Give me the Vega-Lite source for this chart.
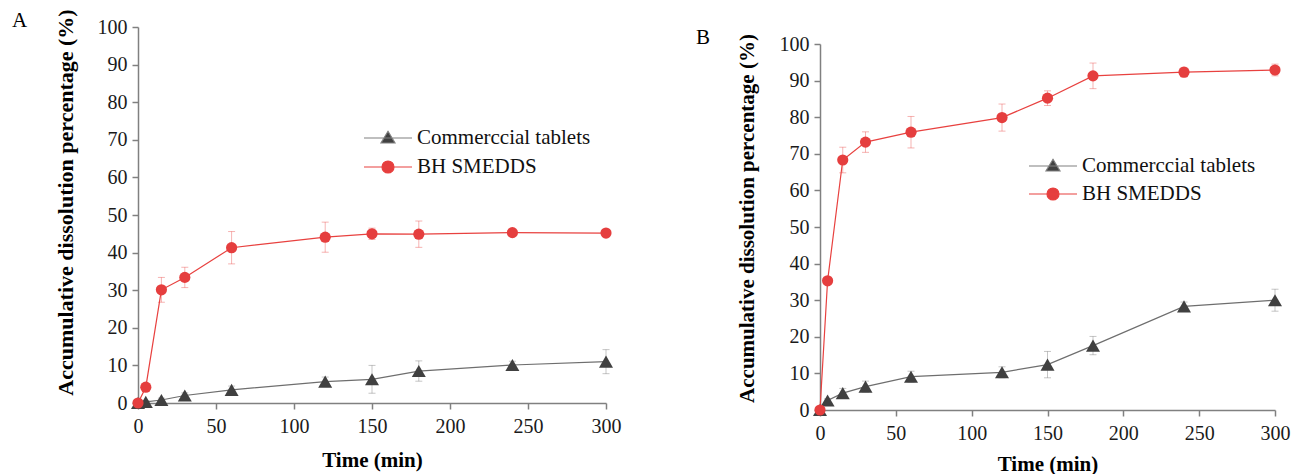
{
  "$schema": "https://vega.github.io/schema/vega-lite/v6.json",
  "background": "white",
  "padding": {"left": 12, "top": 8, "right": 5, "bottom": 0},
  "spacing": 75,
  "align": "none",
  "config": {
    "font": "Liberation Serif",
    "view": {"stroke": null},
    "axis": {
      "grid": false,
      "domainColor": "#808080",
      "domainWidth": 1.5,
      "tickColor": "#808080",
      "tickWidth": 1.5,
      "tickSize": 6,
      "labelFont": "Liberation Serif",
      "labelFontSize": 20,
      "labelColor": "#1a1a1a",
      "labelPadding": 5,
      "labelFlush": false,
      "labelOverlap": false,
      "titleFont": "Liberation Serif",
      "titleFontSize": 21,
      "titleFontWeight": "bold",
      "titleColor": "#000000"
    },
    "title": {"font": "Liberation Serif", "fontSize": 21, "fontWeight": "normal", "anchor": "start", "frame": "bounds", "color": "#000000"},
    "legend": {
      "orient": "none",
      "title": null,
      "labelFont": "Liberation Serif",
      "labelFontSize": 21,
      "labelColor": "#111111",
      "labelLimit": 0,
      "symbolSize": 400,
      "symbolStrokeWidth": 1.2,
      "symbolOpacity": 1
    }
  },
  "datasets": {
    "A": [
      {"series": "Commerccial tablets", "t": 0, "mean": 0, "sd": 0},
      {"series": "Commerccial tablets", "t": 5, "mean": 0.3, "sd": 0.3},
      {"series": "Commerccial tablets", "t": 15, "mean": 0.8, "sd": 0.5},
      {"series": "Commerccial tablets", "t": 30, "mean": 2.0, "sd": 0.7},
      {"series": "Commerccial tablets", "t": 60, "mean": 3.5, "sd": 1.0},
      {"series": "Commerccial tablets", "t": 120, "mean": 5.7, "sd": 1.2},
      {"series": "Commerccial tablets", "t": 150, "mean": 6.3, "sd": 3.7},
      {"series": "Commerccial tablets", "t": 180, "mean": 8.5, "sd": 2.7},
      {"series": "Commerccial tablets", "t": 240, "mean": 10.1, "sd": 1.0},
      {"series": "Commerccial tablets", "t": 300, "mean": 11.0, "sd": 3.2},
      {"series": "BH SMEDDS", "t": 0, "mean": 0, "sd": 0},
      {"series": "BH SMEDDS", "t": 5, "mean": 4.2, "sd": 0.5},
      {"series": "BH SMEDDS", "t": 15, "mean": 30.1, "sd": 3.3},
      {"series": "BH SMEDDS", "t": 30, "mean": 33.4, "sd": 2.7},
      {"series": "BH SMEDDS", "t": 60, "mean": 41.3, "sd": 4.3},
      {"series": "BH SMEDDS", "t": 120, "mean": 44.1, "sd": 4.0},
      {"series": "BH SMEDDS", "t": 150, "mean": 45.0, "sd": 1.5},
      {"series": "BH SMEDDS", "t": 180, "mean": 44.9, "sd": 3.5},
      {"series": "BH SMEDDS", "t": 240, "mean": 45.3, "sd": 0.8},
      {"series": "BH SMEDDS", "t": 300, "mean": 45.2, "sd": 0.8}
    ],
    "B": [
      {"series": "Commerccial tablets", "t": 0, "mean": 0, "sd": 0},
      {"series": "Commerccial tablets", "t": 5, "mean": 2.6, "sd": 0.5},
      {"series": "Commerccial tablets", "t": 15, "mean": 4.6, "sd": 1.3},
      {"series": "Commerccial tablets", "t": 30, "mean": 6.4, "sd": 1.5},
      {"series": "Commerccial tablets", "t": 60, "mean": 9.1, "sd": 1.5},
      {"series": "Commerccial tablets", "t": 120, "mean": 10.3, "sd": 1.5},
      {"series": "Commerccial tablets", "t": 150, "mean": 12.4, "sd": 3.6},
      {"series": "Commerccial tablets", "t": 180, "mean": 17.6, "sd": 2.5},
      {"series": "Commerccial tablets", "t": 240, "mean": 28.3, "sd": 1.2},
      {"series": "Commerccial tablets", "t": 300, "mean": 30.0, "sd": 3.0},
      {"series": "BH SMEDDS", "t": 0, "mean": 0, "sd": 0},
      {"series": "BH SMEDDS", "t": 5, "mean": 35.3, "sd": 0.5},
      {"series": "BH SMEDDS", "t": 15, "mean": 68.3, "sd": 3.5},
      {"series": "BH SMEDDS", "t": 30, "mean": 73.2, "sd": 2.8},
      {"series": "BH SMEDDS", "t": 60, "mean": 75.9, "sd": 4.3},
      {"series": "BH SMEDDS", "t": 120, "mean": 79.9, "sd": 3.7},
      {"series": "BH SMEDDS", "t": 150, "mean": 85.2, "sd": 2.0},
      {"series": "BH SMEDDS", "t": 180, "mean": 91.3, "sd": 3.5},
      {"series": "BH SMEDDS", "t": 240, "mean": 92.3, "sd": 1.3},
      {"series": "BH SMEDDS", "t": 300, "mean": 92.9, "sd": 1.6}
    ]
  },
  "resolve": {"scale": {"color": "independent", "fill": "independent"}, "legend": {"color": "independent", "fill": "independent"}},
  "hconcat": [
    {
      "data": {"name": "A"},
      "width": 468,
      "height": 376,
      "title": {"text": "A", "dx": -42, "offset": -22},
      "encoding": {
        "x": {"field": "t", "type": "quantitative", "title": "Time (min)", "scale": {"domain": [0, 300], "nice": false}, "axis": {"values": [0, 50, 100, 150, 200, 250, 300], "titlePadding": 13, "labelPadding": 7}},
        "y": {"field": "mean", "type": "quantitative", "title": "Accumulative dissolution percentage (%)", "scale": {"domain": [0, 100], "nice": false}, "axis": {"values": [0, 10, 20, 30, 40, 50, 60, 70, 80, 90, 100], "titlePadding": 20, "titleFontSize": 22, "titleY": 175}}
      },
      "layer": [
        {
          "transform": [{"filter": "datum.series == 'Commerccial tablets'"}],
          "mark": {"type": "errorbar", "ticks": true, "size": 7, "thickness": 1, "opacity": 0.4, "color": "#6e6e6e"},
          "encoding": {"yError": {"field": "sd"}}
        },
        {
          "transform": [{"filter": "datum.series == 'BH SMEDDS'"}],
          "mark": {"type": "errorbar", "ticks": true, "size": 7, "thickness": 1, "opacity": 0.4, "color": "#e8413f"},
          "encoding": {"yError": {"field": "sd"}}
        },
        {
          "transform": [{"filter": "datum.series == 'Commerccial tablets'"}],
          "mark": {"type": "line", "strokeWidth": 1.2, "color": "#6e6e6e"},
          "encoding": {}
        },
        {
          "transform": [{"filter": "datum.series == 'BH SMEDDS'"}],
          "mark": {"type": "line", "strokeWidth": 1.2, "color": "#e8413f"},
          "encoding": {}
        },
        {
          "transform": [{"filter": "datum.series == 'Commerccial tablets'"}],
          "mark": {"type": "point", "filled": true, "opacity": 1, "shape": "triangle-up", "size": 196},
          "encoding": {"color": {"field": "series", "type": "nominal", "scale": {"domain": ["Commerccial tablets"], "range": ["#404040"]},
            "legend": {"legendX": 239, "legendY": 100, "labelOffset": 18, "symbolType": "M-2.4,0H2.4M0,-0.67L0.7,0.5L-0.7,0.5Z", "symbolStrokeColor": "#808080", "symbolFillColor": "#404040"}}}
        },
        {
          "transform": [{"filter": "datum.series == 'BH SMEDDS'"}],
          "mark": {"type": "point", "filled": true, "opacity": 1, "shape": "circle", "size": 125},
          "encoding": {"fill": {"field": "series", "type": "nominal", "scale": {"domain": ["BH SMEDDS"], "range": ["#e53e3e"]},
            "legend": {"legendX": 239, "legendY": 129, "labelOffset": 18, "symbolType": "M-2.4,0H2.4M0.6,0A0.6,0.6 0 1 1 -0.6,0A0.6,0.6 0 1 1 0.6,0Z", "symbolStrokeColor": "#e8413f", "symbolFillColor": "#e53e3e"}}}
        }
      ]
    },
    {
      "data": {"name": "B"},
      "width": 455,
      "height": 383,
      "title": {"text": "B", "dx": -40, "offset": -21},
      "encoding": {
        "x": {"field": "t", "type": "quantitative", "title": "Time (min)", "scale": {"domain": [0, 300], "nice": false}, "axis": {"values": [0, 50, 100, 150, 200, 250, 300], "titlePadding": 10, "labelPadding": 7}},
        "y": {"field": "mean", "type": "quantitative", "title": "Accumulative dissolution percentage (%)", "scale": {"domain": [0, 100], "nice": false, "rangeMax": 17}, "axis": {"values": [0, 10, 20, 30, 40, 50, 60, 70, 80, 90, 100], "titlePadding": 22, "titleY": 191}}
      },
      "layer": [
        {
          "transform": [{"filter": "datum.series == 'Commerccial tablets'"}],
          "mark": {"type": "errorbar", "ticks": true, "size": 7, "thickness": 1, "opacity": 0.4, "color": "#6e6e6e"},
          "encoding": {"yError": {"field": "sd"}}
        },
        {
          "transform": [{"filter": "datum.series == 'BH SMEDDS'"}],
          "mark": {"type": "errorbar", "ticks": true, "size": 7, "thickness": 1, "opacity": 0.4, "color": "#e8413f"},
          "encoding": {"yError": {"field": "sd"}}
        },
        {
          "transform": [{"filter": "datum.series == 'Commerccial tablets'"}],
          "mark": {"type": "line", "strokeWidth": 1.2, "color": "#6e6e6e"},
          "encoding": {}
        },
        {
          "transform": [{"filter": "datum.series == 'BH SMEDDS'"}],
          "mark": {"type": "line", "strokeWidth": 1.2, "color": "#e8413f"},
          "encoding": {}
        },
        {
          "transform": [{"filter": "datum.series == 'Commerccial tablets'"}],
          "mark": {"type": "point", "filled": true, "opacity": 1, "shape": "triangle-up", "size": 196},
          "encoding": {"color": {"field": "series", "type": "nominal", "scale": {"domain": ["Commerccial tablets"], "range": ["#404040"]},
            "legend": {"legendX": 222, "legendY": 128, "labelOffset": 18, "symbolType": "M-2.4,0H2.4M0,-0.67L0.7,0.5L-0.7,0.5Z", "symbolStrokeColor": "#808080", "symbolFillColor": "#404040"}}}
        },
        {
          "transform": [{"filter": "datum.series == 'BH SMEDDS'"}],
          "mark": {"type": "point", "filled": true, "opacity": 1, "shape": "circle", "size": 125},
          "encoding": {"fill": {"field": "series", "type": "nominal", "scale": {"domain": ["BH SMEDDS"], "range": ["#e53e3e"]},
            "legend": {"legendX": 222, "legendY": 156, "labelOffset": 18, "symbolType": "M-2.4,0H2.4M0.6,0A0.6,0.6 0 1 1 -0.6,0A0.6,0.6 0 1 1 0.6,0Z", "symbolStrokeColor": "#e8413f", "symbolFillColor": "#e53e3e"}}}
        }
      ]
    }
  ]
}
